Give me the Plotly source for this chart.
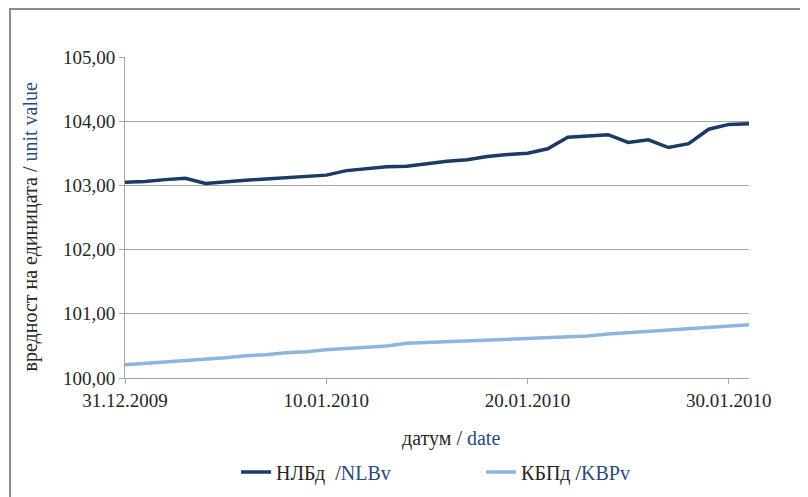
import pandas as pd
import plotly.graph_objects as go

# daily unit values, 31.12.2009 - 31.01.2010
dates = pd.date_range("2009-12-31", "2010-01-31", freq="D")
nlb = [103.05, 103.06, 103.09, 103.11, 103.03, 103.06, 103.08, 103.10,
       103.12, 103.15, 103.16, 103.23, 103.26, 103.29, 103.30, 103.34,
       103.375, 103.40, 103.45, 103.48, 103.50, 103.57, 103.75, 103.77,
       103.79, 103.67, 103.71, 103.59, 103.65, 103.875, 103.95, 103.96]
kbp = [100.207, 100.228, 100.254, 100.27, 100.30, 100.316, 100.347, 100.363,
       100.394, 100.41, 100.44, 100.456, 100.48, 100.50, 100.54, 100.554,
       100.565, 100.58, 100.596, 100.606, 100.617, 100.632, 100.642, 100.653,
       100.684, 100.705, 100.725, 100.746, 100.772, 100.788, 100.81, 100.83]
x_ticks = ["2009-12-31", "2010-01-10", "2010-01-20", "2010-01-30"]
y_ticks = [100, 101, 102, 103, 104, 105]

NLB_COLOR = "#1b3a66"
KBP_COLOR = "#8db4e2"
EN_BLUE = "#2a4a80"
GRID = "#a6a6a6"
FONT = "Liberation Serif"

fig = go.Figure()
fig.add_trace(go.Scatter(
    x=dates, y=nlb, mode="lines",
    name=f"НЛБд  /<span style='color:{EN_BLUE}'>NLBv</span>",
    line=dict(color=NLB_COLOR, width=3.5)))
fig.add_trace(go.Scatter(
    x=dates, y=kbp, mode="lines",
    name=f"КБПд /<span style='color:{EN_BLUE}'>KBPv</span>",
    line=dict(color=KBP_COLOR, width=3.5)))

# outer chart frame (only its top and left edges fall inside the picture)
fig.add_shape(type="rect", xref="paper", yref="paper",
              x0=-0.1843, x1=1.3, y0=-0.6, y1=1.1495,
              line=dict(color="#8c8c8c", width=2), layer="below")

# axis titles as annotations so they sit where the original has them
fig.add_annotation(
    text=f"вредност на единицата / <span style='color:{EN_BLUE}'>unit value</span>",
    xref="paper", yref="paper", x=-0.1522, y=0.472, textangle=-90,
    showarrow=False, xanchor="center", yanchor="middle", font=dict(size=20))
fig.add_annotation(
    text=f"датум / <span style='color:{EN_BLUE}'>date</span>",
    xref="paper", yref="paper", x=0.522, y=-0.19,
    showarrow=False, xanchor="center", yanchor="middle", font=dict(size=20))

fig.update_layout(
    width=808, height=497,
    margin=dict(l=117, r=67, t=49, b=127),
    paper_bgcolor="white", plot_bgcolor="white",
    separators=",.",
    font=dict(family=FONT, size=19, color="#262626"),
    showlegend=True,
    legend=dict(orientation="h", x=0.178, y=-0.293, xanchor="left",
                yanchor="middle", entrywidth=200, font=dict(size=20),
                bgcolor="rgba(0,0,0,0)"),
    xaxis=dict(
        range=[dates[0], dates[-1]],
        tickvals=x_ticks, tickformat="%d.%m.%Y",
        showgrid=False, showline=True, linecolor=GRID, linewidth=1,
        ticks="outside", ticklen=5, tickcolor=GRID,
    ),
    yaxis=dict(
        range=[100, 105], tickvals=y_ticks, tickformat=".2f",
        showgrid=True, gridcolor=GRID, gridwidth=1, zeroline=False,
        showline=True, linecolor=GRID, linewidth=1,
        ticks="outside", ticklen=5, tickcolor=GRID,
    ),
)

fig.write_html("out.html")
